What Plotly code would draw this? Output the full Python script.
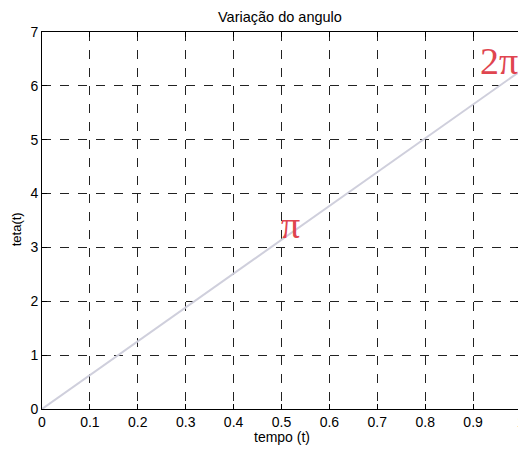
import plotly.graph_objects as go

t_values = [0.0, 1.0]
teta_values = [0.0, 6.2832]

x_ticks = [0, 0.1, 0.2, 0.3, 0.4, 0.5, 0.6, 0.7, 0.8, 0.9, 1]
x_tick_labels = ["0", "0.1", "0.2", "0.3", "0.4", "0.5", "0.6", "0.7", "0.8", "0.9", "1"]
y_ticks = [0, 1, 2, 3, 4, 5, 6, 7]
y_tick_labels = ["0", "1", "2", "3", "4", "5", "6", "7"]

labels_x = [0.518, 0.955]
labels_y = [3.42, 6.46]
labels_text = ["π", "2π"]

fig = go.Figure()
fig.add_trace(go.Scatter(x=t_values, y=teta_values, mode="lines",
                         line=dict(color="#cfcfdc", width=2), showlegend=False,
                         hoverinfo="skip"))

for xv, yv, txt in zip(labels_x, labels_y, labels_text):
    fig.add_annotation(x=xv, y=yv, text=txt, showarrow=False,
                       font=dict(family="Liberation Serif", size=38, color="#e0454f"),
                       xref="x", yref="y")

axis_common = dict(showline=True, linecolor="black", linewidth=1, mirror="ticks",
                   ticks="inside", ticklen=5, tickcolor="black",
                   showgrid=True, gridcolor="#222222", griddash="dash", gridwidth=1,
                   zeroline=False, automargin=False, ticklabeloverflow="allow",
                   tickfont=dict(family="Liberation Sans", size=14, color="black"))

fig.update_xaxes(range=[0, 1], tickvals=x_ticks, ticktext=x_tick_labels, **axis_common)
fig.update_yaxes(range=[0, 7], tickvals=y_ticks, ticktext=y_tick_labels, **axis_common)

fig.add_annotation(text="tempo (t)", xref="paper", yref="paper", x=0.5, y=-0.074,
                   xanchor="center", yanchor="middle", showarrow=False,
                   font=dict(family="Liberation Sans", size=14, color="black"))
fig.add_annotation(text="teta(t)", xref="paper", yref="paper", x=-0.054, y=0.477,
                   xanchor="center", yanchor="middle", showarrow=False, textangle=-90,
                   font=dict(family="Liberation Sans", size=13, color="black"))

fig.update_layout(width=518, height=444,
                  margin=dict(l=34, r=5, t=24, b=43),
                  paper_bgcolor="white", plot_bgcolor="white",
                  title=dict(text="Variação do angulo", x=0.525, xanchor="center",
                             y=0.979, yanchor="middle",
                             font=dict(family="Liberation Sans", size=14.5, color="black")))

fig.write_html("out.html")
